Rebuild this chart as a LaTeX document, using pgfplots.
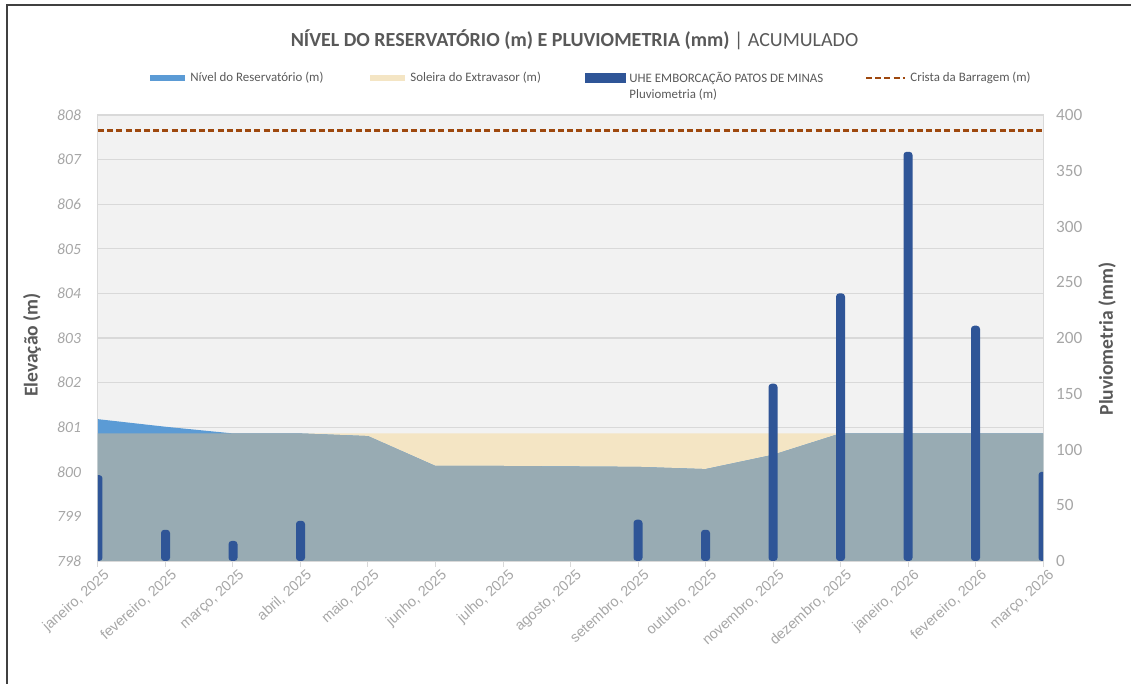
\documentclass[border=0pt]{standalone}
\usepackage{fontspec}
\setmainfont{Carlito}
\newfontfamily\arialfont{Liberation Sans}
\usepackage{pgfplots}
\usepackage{pgfplotstable}
\pgfplotsset{compat=1.18}
\definecolor{bgc}{HTML}{F2F2F2}
\definecolor{gridc}{HTML}{D9D9D9}
\definecolor{lvl}{HTML}{5B9BD5}
\definecolor{sol}{HTML}{F4E5C4}
\definecolor{ovl}{HTML}{98ABB3}
\definecolor{barc}{HTML}{2F5597}
\definecolor{crista}{HTML}{9E480E}
\definecolor{txt}{HTML}{595959}
\definecolor{tickc}{HTML}{A6A6A6}

\pgfplotstableread{
x level sol ovl rain
0  801.18 800.86 800.86 77
1  801.01 800.86 800.86 28
2  800.86 800.86 800.86 18
3  800.86 800.86 800.86 36
4  800.80 800.86 800.80 0
5  800.13 800.86 800.13 0
6  800.13 800.86 800.13 0
7  800.12 800.86 800.12 0
8  800.11 800.86 800.11 37
9  800.06 800.86 800.06 28
10 800.38 800.86 800.38 159
11 800.86 800.86 800.86 240
12 800.86 800.86 800.86 367
13 800.86 800.86 800.86 211
14 800.86 800.86 800.86 80
}\datatab

\begin{document}
\begin{tikzpicture}
\useasboundingbox (-49pt,-61.5pt) rectangle (516.5pt,280.5pt);
\draw[black!75, line width=0.6pt] (-45.5pt,-61.5pt) -- (-45.5pt,278pt) -- (516.5pt,278pt);

% elevation axis: values plotted as height above 798 m
\begin{axis}[
  at={(0,0)}, anchor=south west,
  scale only axis, width=472.5pt, height=223pt,
  xmin=0, xmax=14, ymin=0, ymax=10,
  axis background/.style={fill=bgc},
  axis line style={gridc, line width=0.5pt},
  ymajorgrids, grid style={gridc, line width=0.6pt},
  ytick={0,1,...,10},
  yticklabels={798,799,800,801,802,803,804,805,806,807,808},
  ytick style={draw=none},
  xtick={0,...,14},
  xtick style={gridc, line width=0.5pt},
  tick align=outside, major tick length=3pt,
  xtick pos=bottom, ytick pos=left,
  yticklabel style={font=\fontsize{7.8}{9}\selectfont\itshape, color=tickc, xshift=-2pt},
  xticklabels={{janeiro, 2025},{fevereiro, 2025},{março, 2025},{abril, 2025},{maio, 2025},{junho, 2025},{julho, 2025},{agosto, 2025},{setembro, 2025},{outubro, 2025},{novembro, 2025},{dezembro, 2025},{janeiro, 2026},{fevereiro, 2026},{março, 2026}},
  xticklabel style={font=\arialfont\fontsize{7.2}{8}\selectfont, color=tickc, rotate=42, anchor=north east, inner sep=1pt, xshift=2.5pt, yshift=-1pt},
]
\addplot[fill=sol, draw=none] table[x=x, y expr=\thisrow{sol}-798] {\datatab} \closedcycle;
\addplot[fill=lvl, draw=none] table[x=x, y expr=\thisrow{level}-798] {\datatab} \closedcycle;
\addplot[fill=ovl, draw=none] table[x=x, y expr=\thisrow{ovl}-798] {\datatab} \closedcycle;
\end{axis}

\begin{axis}[
  at={(0,0)}, anchor=south west,
  scale only axis, width=472.5pt, height=223pt,
  xmin=0, xmax=14, ymin=0, ymax=400,
  axis x line=none,
  axis y line*=right,
  y axis line style={draw=none},
  ytick={0,50,...,400},
  ytick style={draw=none},
  /pgf/number format/assume math mode=true,
  yticklabel style={font=\fontsize{8.6}{10}\selectfont, color=tickc, xshift=3pt},
  ybar, bar width=4.5pt,
  unbounded coords=discard,
]
\addplot[fill=barc, draw=none, bar shift=0pt, rounded corners=1.6pt,
  y filter/.expression={y==0 ? nan : y}] table[x=x, y=rain] {\datatab};
\end{axis}

\begin{axis}[
  at={(0,0)}, anchor=south west,
  scale only axis, width=472.5pt, height=223pt,
  xmin=0, xmax=14, ymin=0, ymax=10,
  axis lines=none,
]
\addplot[crista, line width=1.4pt, dash pattern=on 3pt off 1.6pt] table[x=x, y expr=807.65-798] {
x
0
14
};
\end{axis}

% axis titles
\node[rotate=90, font=\fontsize{9.8}{11}\selectfont\bfseries, color=txt] at (-33pt,108pt) {Elevação (m)};
\node[rotate=90, font=\fontsize{9.8}{11}\selectfont\bfseries, color=txt] at (504.5pt,111pt) {Pluviometria (mm)};

% title
\node[font=\fontsize{10}{12}\selectfont, color=txt] at (238.25pt,260.5pt) {\textbf{NÍVEL DO RESERVATÓRIO (m) E PLUVIOMETRIA (mm)} | ACUMULADO};

% legend
\fill[lvl] (26pt,239.8pt) rectangle (43.5pt,243.2pt);
\node[anchor=west, font=\fontsize{6.45}{7.5}\selectfont, color=txt, inner sep=1pt] at (45pt,241.5pt) {Nível do Reservatório (m)};
\fill[sol] (136pt,239.8pt) rectangle (153.5pt,243.2pt);
\node[anchor=west, font=\fontsize{6.45}{7.5}\selectfont, color=txt, inner sep=1pt] at (155pt,241.5pt) {Soleira do Extravasor (m)};
\fill[barc] (243.5pt,239pt) rectangle (264pt,244pt);
\node[anchor=west, font=\fontsize{6.45}{7.5}\selectfont, color=txt, inner sep=1pt] at (264.5pt,241.5pt) {UHE EMBORCAÇÃO PATOS DE MINAS};
\node[anchor=west, font=\fontsize{6.45}{7.5}\selectfont, color=txt, inner sep=1pt] at (264.5pt,233pt) {Pluviometria (m)};
\draw[crista, line width=1.4pt, dash pattern=on 3pt off 1.6pt] (384pt,241.5pt) -- (403.5pt,241.5pt);
\node[anchor=west, font=\fontsize{6.45}{7.5}\selectfont, color=txt, inner sep=1pt] at (405pt,241.5pt) {Crista da Barragem (m)};
\end{tikzpicture}
\end{document}
